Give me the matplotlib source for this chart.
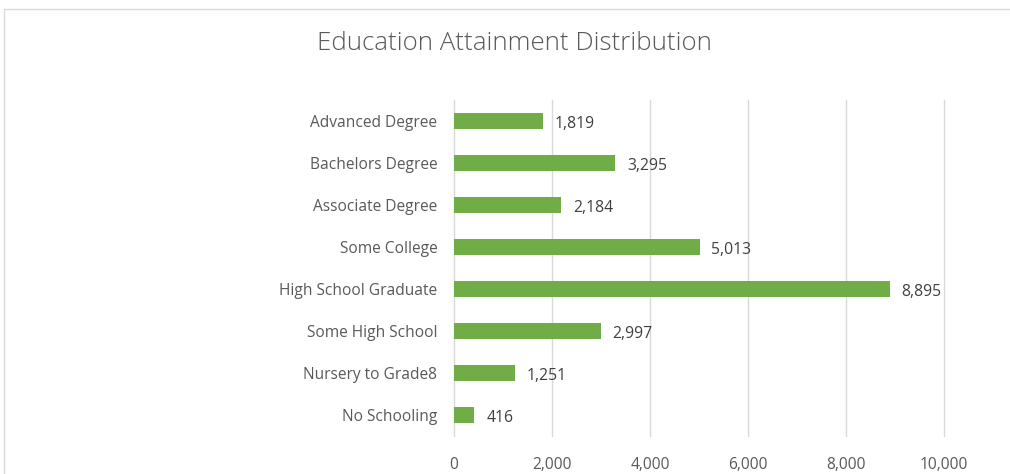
import matplotlib.pyplot as plt
from matplotlib.patches import Rectangle
from matplotlib.ticker import FuncFormatter

categories = ['No Schooling', 'Nursery to Grade8', 'Some High School', 'High School Graduate',
              'Some College', 'Associate Degree', 'Bachelors Degree', 'Advanced Degree']
counts = [416, 1251, 2997, 8895, 5013, 2184, 3295, 1819]

plt.rcParams['font.family'] = ['Open Sans', 'DejaVu Sans']
text_color = '#595959'

fig = plt.figure(figsize=(10.1, 4.74), dpi=100)
ax = fig.add_axes([454 / 1010, 1 - 436 / 474, 490 / 1010, 336 / 474])

# chart border
fig.patches.append(Rectangle((4 / 1010, -0.1), 1.1, 1 - 9 / 474 + 0.1, transform=fig.transFigure,
                             fill=False, edgecolor='#d9d9d9', linewidth=1))

ys = range(len(categories))
ax.barh(ys, counts, height=0.38, color='#70AD47', zorder=3)
for y, v in zip(ys, counts):
    ax.text(v + 240, y - 0.07, f'{v:,}', va='center', ha='left', fontsize=11.3, color='#404040')

ax.set_xlim(0, 10000)
ax.set_ylim(-0.5, len(categories) - 0.5)
ax.set_xticks(range(0, 10001, 2000))
ax.xaxis.set_major_formatter(FuncFormatter(lambda x, p: f'{int(x):,}'))
ax.set_yticks(list(ys))
ax.set_yticklabels(categories)
ax.tick_params(axis='both', length=0, labelsize=11.2, labelcolor=text_color)
ax.tick_params(axis='x', pad=15)
ax.tick_params(axis='y', pad=12)
ax.grid(axis='x', color='#d9d9d9', linewidth=1, zorder=0)
for gl in ax.xaxis.get_gridlines():
    gl.set_clip_on(False)
for s in ax.spines.values():
    s.set_visible(False)

fig.text(514 / 1010, 1 - 44 / 474, 'Education Attainment Distribution', ha='center', va='center',
         fontsize=18.6, color=text_color, fontweight='light')

fig.savefig('out.png', dpi=100)
